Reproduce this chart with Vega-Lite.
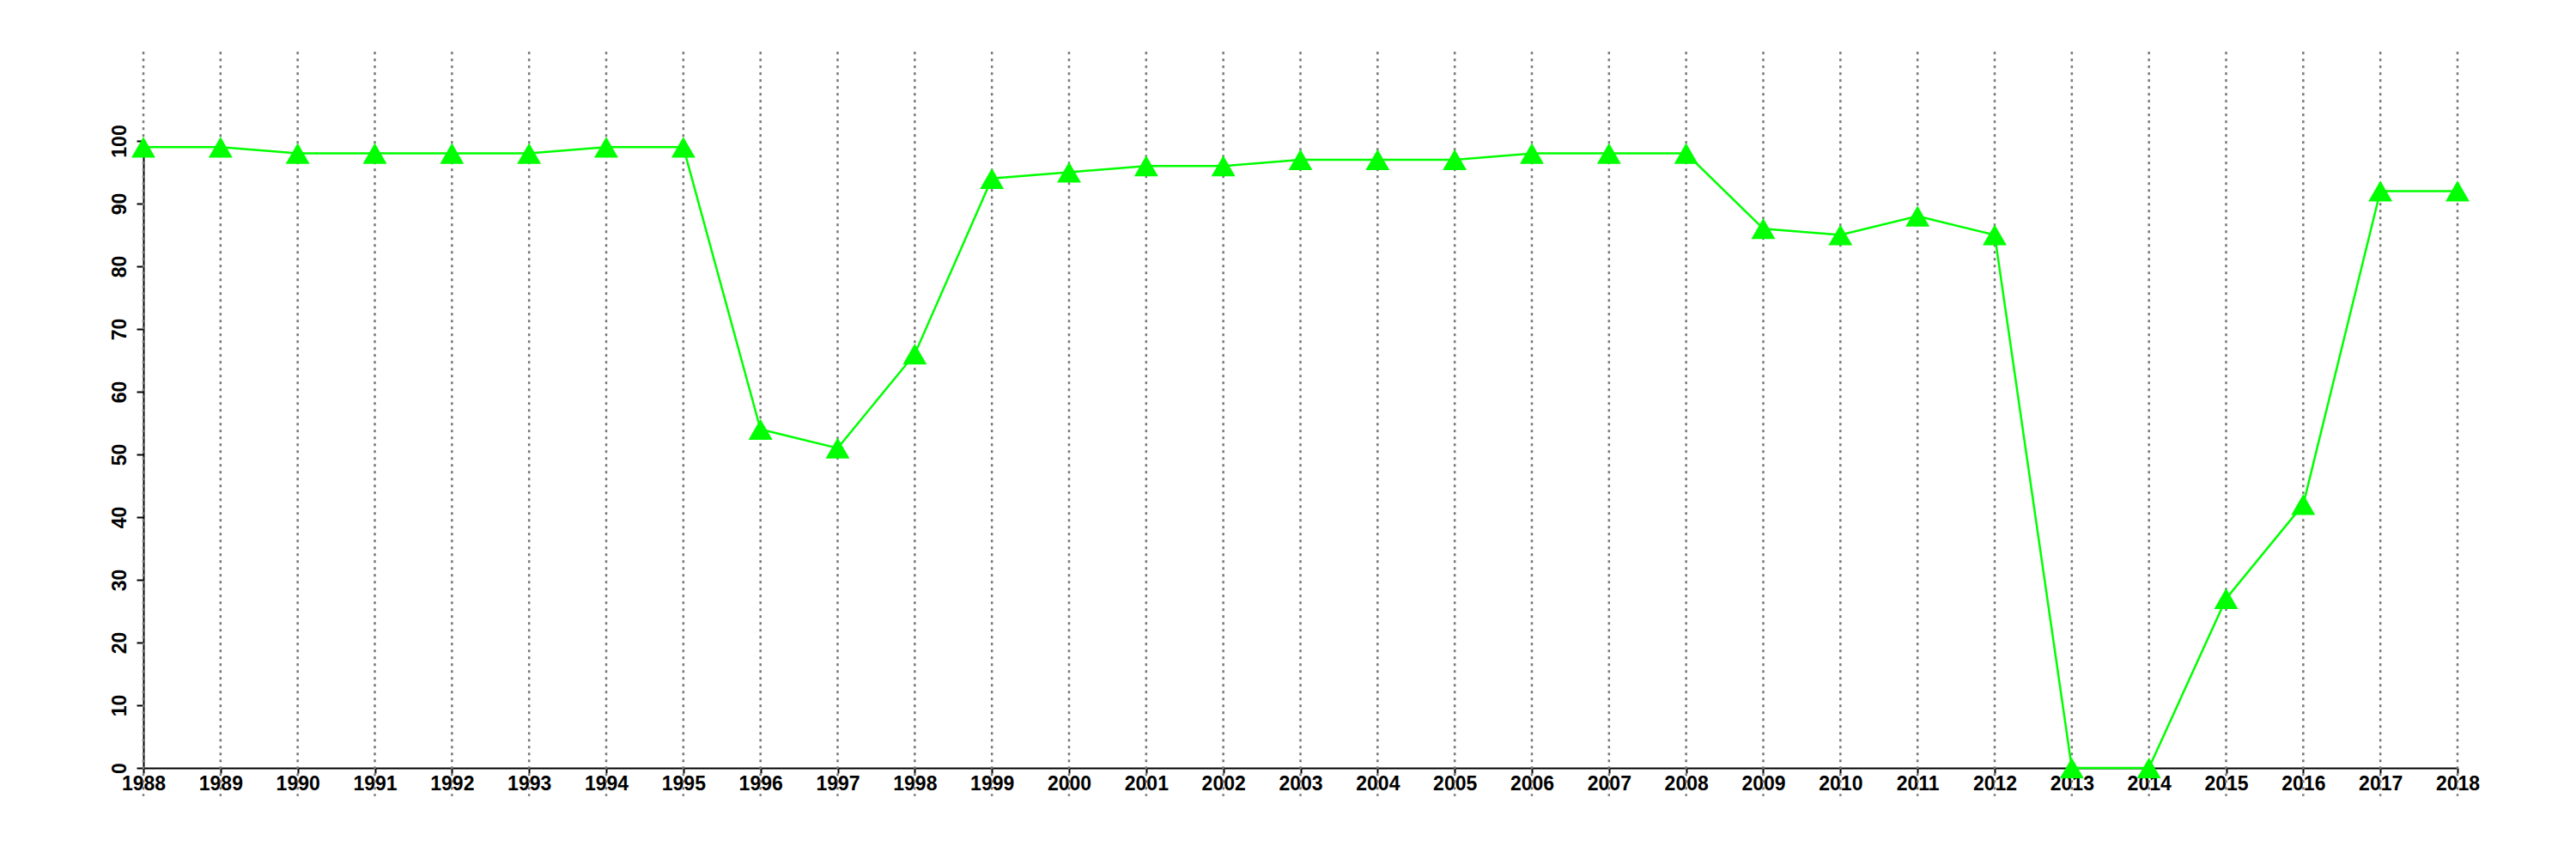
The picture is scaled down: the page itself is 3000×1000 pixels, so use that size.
{
  "$schema": "https://vega.github.io/schema/vega-lite/v6.json",
  "width": 2695,
  "height": 730,
  "autosize": {"type": "none"},
  "padding": {"left": 167, "top": 164, "right": 138, "bottom": 106},
  "background": "white",
  "config": {"view": {"stroke": null}, "font": "Liberation Sans"},
  "data": {"values": [
    {"year": 1988, "value": 99}, {"year": 1989, "value": 99}, {"year": 1990, "value": 98},
    {"year": 1991, "value": 98}, {"year": 1992, "value": 98}, {"year": 1993, "value": 98},
    {"year": 1994, "value": 99}, {"year": 1995, "value": 99}, {"year": 1996, "value": 54},
    {"year": 1997, "value": 51}, {"year": 1998, "value": 66}, {"year": 1999, "value": 94},
    {"year": 2000, "value": 95}, {"year": 2001, "value": 96}, {"year": 2002, "value": 96},
    {"year": 2003, "value": 97}, {"year": 2004, "value": 97}, {"year": 2005, "value": 97},
    {"year": 2006, "value": 98}, {"year": 2007, "value": 98}, {"year": 2008, "value": 98},
    {"year": 2009, "value": 86}, {"year": 2010, "value": 85}, {"year": 2011, "value": 88},
    {"year": 2012, "value": 85}, {"year": 2013, "value": 0}, {"year": 2014, "value": 0},
    {"year": 2015, "value": 27}, {"year": 2016, "value": 42}, {"year": 2017, "value": 92},
    {"year": 2018, "value": 92}
  ]},
  "encoding": {
    "x": {"field": "year", "type": "quantitative", "scale": {"domain": [1988, 2018], "nice": false, "zero": false},
      "axis": {"values": [1988,1989,1990,1991,1992,1993,1994,1995,1996,1997,1998,1999,2000,2001,2002,2003,2004,2005,2006,2007,2008,2009,2010,2011,2012,2013,2014,2015,2016,2017,2018],
        "format": "d", "title": null, "grid": false, "domainColor": "black", "domainWidth": 2, "tickColor": "black", "tickWidth": 2, "tickSize": 6,
        "labelFontSize": 23, "labelFontWeight": "bold", "labelColor": "black", "labelPadding": 1, "labelOverlap": false, "labelFlush": false}}
  },
  "layer": [
    {
      "mark": {"type": "rule", "clip": false, "color": "#777777", "strokeWidth": 2.5, "strokeDash": [3, 5]},
      "encoding": {"y": {"datum": 114.2, "type": "quantitative"}, "y2": {"datum": -4.5}}
    },
    {
      "mark": {"type": "line", "color": "#00FF00", "strokeWidth": 2.5},
      "encoding": {"y": {"field": "value", "type": "quantitative"}}
    },
    {
      "mark": {"type": "point", "shape": "triangle-up", "filled": true, "color": "#00FF00", "opacity": 1, "size": 780},
      "encoding": {"y": {"field": "value", "type": "quantitative", "scale": {"domain": [0, 100], "nice": false},
        "axis": {"values": [0,10,20,30,40,50,60,70,80,90,100], "title": null, "grid": false, "domainColor": "black", "domainWidth": 2,
          "tickColor": "black", "tickWidth": 2, "tickSize": 8, "labelAngle": 270, "labelAlign": "center", "labelBaseline": "bottom",
          "labelFontSize": 23, "labelFontWeight": "bold", "labelColor": "black", "labelPadding": 8, "labelOverlap": false, "labelFlush": false}}}
    }
  ]
}
